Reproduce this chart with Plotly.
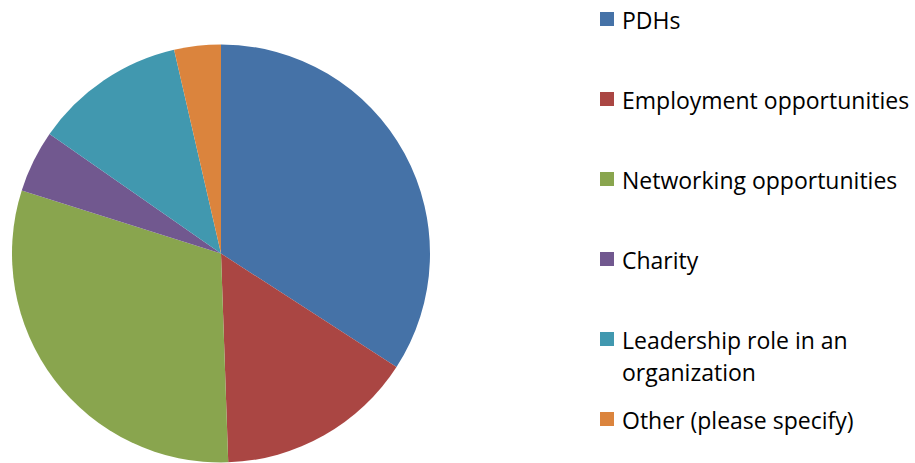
import plotly.graph_objects as go

categories = ["PDHs", "Employment opportunities", "Networking opportunities",
              "Charity", "Leadership role in an<br>organization", "Other (please specify)"]
values = [34.1, 15.3, 30.4, 4.8, 11.7, 3.6]
colors = ["#4572A7", "#AA4643", "#89A54E", "#71588F", "#4198AF", "#DB843D"]

W, H = 915, 463
cx, cy, r = 221, 253.5, 209

fig = go.Figure(go.Pie(
    labels=[c.replace("<br>", " ") for c in categories],
    values=values,
    sort=False,
    direction="clockwise",
    rotation=0,
    textinfo="none",
    hoverinfo="label+percent",
    marker=dict(colors=colors, line=dict(width=0)),
    domain=dict(x=[(cx - r) / W, (cx + r) / W], y=[(H - cy - r) / H, (H - cy + r) / H]),
    showlegend=False,
))

# Manual legend (Excel-style, evenly spaced entries)
shapes, annotations = [], []
leg_x0, box = 600, 14
first_y, step, line_gap = 19, 80, 32
for i, (lab, col) in enumerate(zip(categories, colors)):
    yc = first_y + i * step
    shapes.append(dict(type="rect", xref="paper", yref="paper",
                       x0=leg_x0 / W, x1=(leg_x0 + box) / W,
                       y0=(H - (yc - box / 2)) / H, y1=(H - (yc + box / 2)) / H,
                       fillcolor=col, line=dict(width=0)))
    for j, line in enumerate(lab.split("<br>")):
        annotations.append(dict(xref="paper", yref="paper", x=620 / W,
                                y=(H - (yc + 1 + j * line_gap)) / H,
                                xanchor="left", yanchor="middle",
                                text=line, showarrow=False, align="left",
                                font=dict(family="Open Sans", size=23, color="#000000")))

fig.update_layout(
    width=W, height=H,
    margin=dict(l=0, r=0, t=0, b=0),
    paper_bgcolor="white", plot_bgcolor="white",
    shapes=shapes, annotations=annotations,
)

fig.write_html("out.html", config={"displayModeBar": False},
               post_script="document.body.style.margin='0';")
